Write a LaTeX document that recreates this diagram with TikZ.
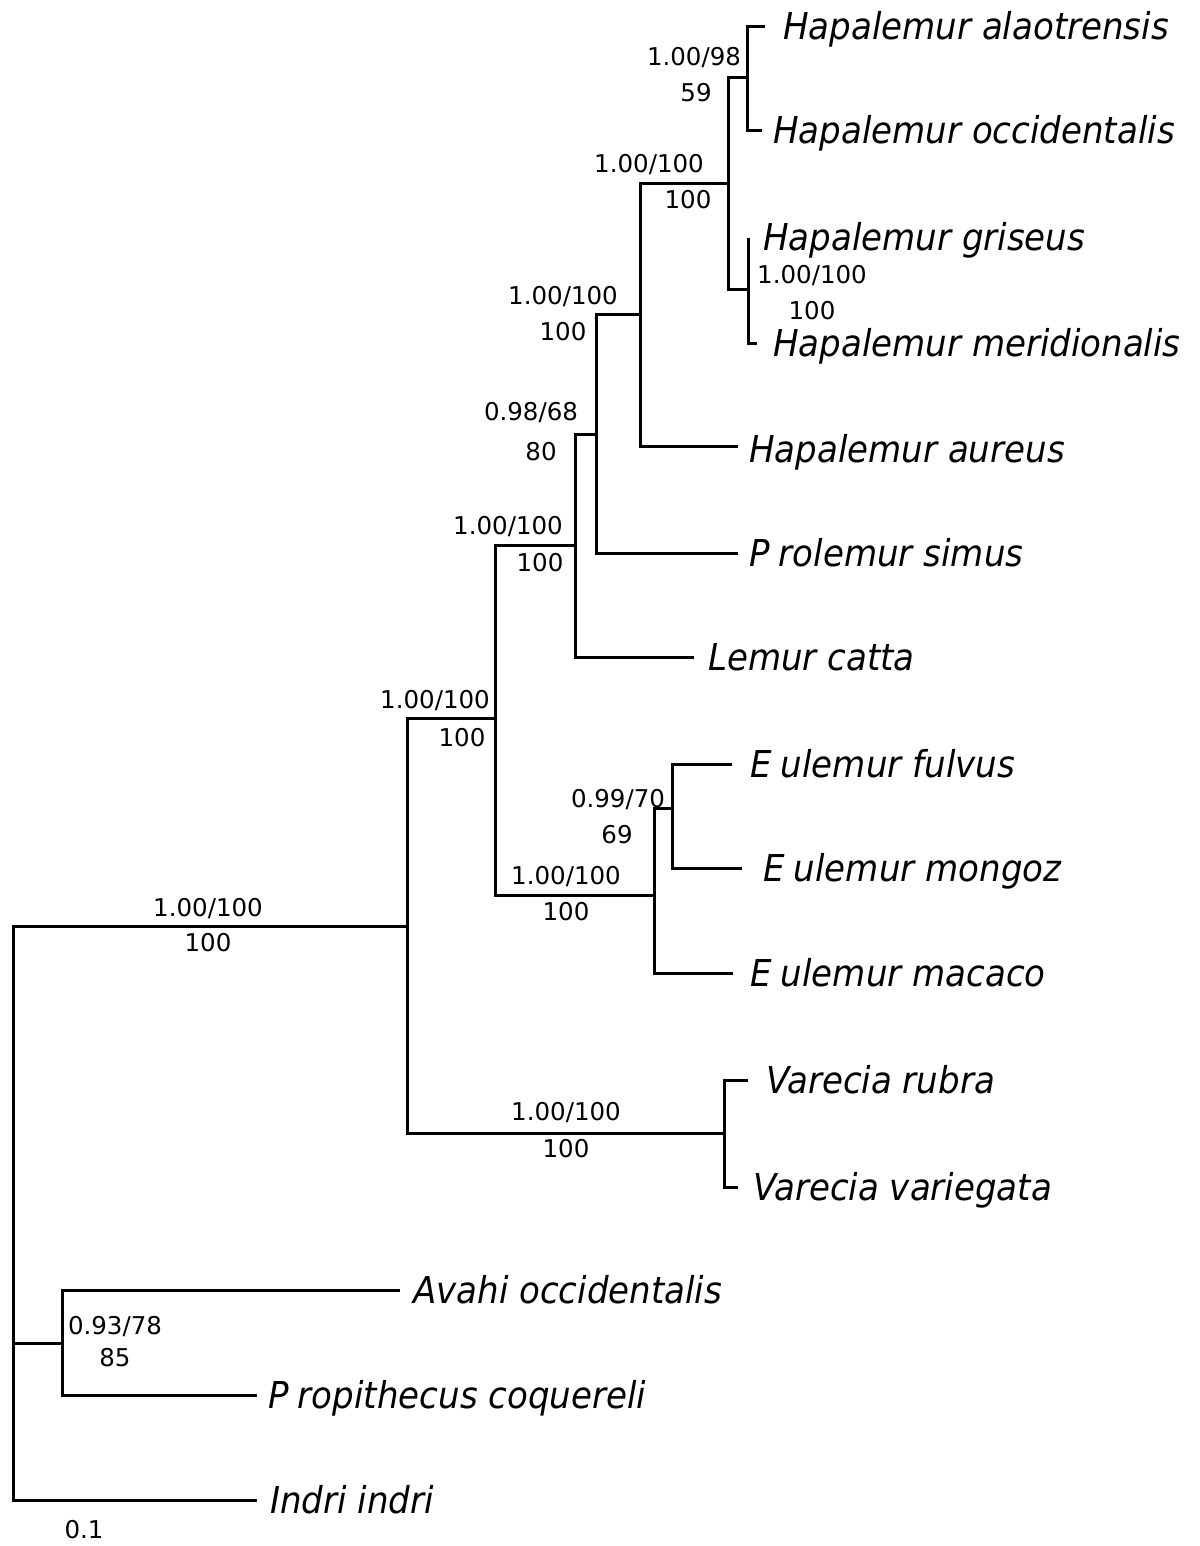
\documentclass[tikz,border=0pt]{standalone}
\usepackage{fontspec}
\setmainfont{DejaVu Sans}
\newfontfamily\taxfont{DejaVu Sans}[FakeStretch=0.92]
\begin{document}
\begin{tikzpicture}[x=1pt,y=-1pt,
  br/.style={line width=3pt, line join=miter},
  sup/.style={font=\fontsize{24.5}{30}\selectfont, inner sep=0pt, anchor=center},
  taxon/.style={font=\taxfont\fontsize{37}{42}\selectfont\itshape, anchor=base west, inner sep=0pt}]
\useasboundingbox (0,0) rectangle (1199,1546);
\fill[white] (0,0) rectangle (1199,1546);
% internal nodes
\coordinate (R) at (13,1343);
\coordinate (A) at (407,926);
\coordinate (B) at (495,718);
\coordinate (C) at (575,545);
\coordinate (D) at (596,434);
\coordinate (E) at (640,314);
\coordinate (F) at (728,184);
\coordinate (G) at (747,78);
\coordinate (Gr) at (748,289);
\coordinate (Eu) at (654,895);
\coordinate (Eu2) at (672,808);
\coordinate (V) at (724,1133);
\coordinate (P) at (62,1343);
% leaf tips
\coordinate (tAla) at (765,27);
\coordinate (tOcc) at (762,131);
\coordinate (tGri) at (748,238);
\coordinate (tMer) at (757,343);
\coordinate (tAur) at (738,446);
\coordinate (tSim) at (738,553);
\coordinate (tCat) at (694,657);
\coordinate (tFul) at (732,764);
\coordinate (tMon) at (742,868);
\coordinate (tMac) at (733,973);
\coordinate (tRub) at (748,1080);
\coordinate (tVar) at (738,1187);
\coordinate (tAva) at (400,1290);
\coordinate (tPro) at (257,1395);
\coordinate (tInd) at (257,1500);
% leaf labels
\node[taxon] (nAla) at (783,40) {Hapalemur alaotrensis};
\node[taxon] (nOcc) at (773,144) {Hapalemur occidentalis};
\node[taxon] (nGri) at (763,251) {Hapalemur griseus};
\node[taxon] (nMer) at (773,356) {Hapalemur meridionalis};
\node[taxon] (nAur) at (749,462) {Hapalemur aureus};
\node[taxon] (nSim) at (749,566) {P\hspace{0.25em}rolemur simus};
\node[taxon] (nCat) at (708,670) {Lemur catta};
\node[taxon] (nFul) at (750,777) {E\hspace{0.25em}ulemur fulvus};
\node[taxon] (nMon) at (763,881) {E\hspace{0.25em}ulemur mongoz};
\node[taxon] (nMac) at (750,986) {E\hspace{0.25em}ulemur macaco};
\node[taxon] (nRub) at (766,1093) {Varecia rubra};
\node[taxon] (nVar) at (753,1200) {Varecia variegata};
\node[taxon] (nAva) at (413,1303) {Avahi occidentalis};
\node[taxon] (nPro) at (268,1408) {P\hspace{0.25em}ropithecus coquereli};
\node[taxon] (nInd) at (270,1513) {Indri indri};
% branches
\draw[br] (R) |- (A);
\draw[br] (R) |- (P);
\draw[br] (R) |- (tInd);
\draw[br] (A) |- (B);
\draw[br] (A) |- (V);
\draw[br] (B) |- (C);
\draw[br] (B) |- (Eu);
\draw[br] (C) |- (D);
\draw[br] (C) |- (tCat);
\draw[br] (D) |- (E);
\draw[br] (D) |- (tSim);
\draw[br] (E) |- (F);
\draw[br] (E) |- (tAur);
\draw[br] (F) |- (G);
\draw[br] (F) |- (Gr);
\draw[br] (G) |- (tAla);
\draw[br] (G) |- (tOcc);
\draw[br] (Gr) |- (tGri);
\draw[br] (Gr) |- (tMer);
\draw[br] (Eu) |- (Eu2);
\draw[br] (Eu) |- (tMac);
\draw[br] (Eu2) |- (tFul);
\draw[br] (Eu2) |- (tMon);
\draw[br] (V) |- (tRub);
\draw[br] (V) |- (tVar);
\draw[br] (P) |- (tAva);
\draw[br] (P) |- (tPro);
% support values
\node[sup] (sA1) at (208,909) {1.00/100};
\node[sup] (sA2) at (208,943) {100};
\node[sup] (sB1) at (435,701) {1.00/100};
\node[sup] (sB2) at (462,738) {100};
\node[sup] (sC1) at (508,527) {1.00/100};
\node[sup] (sC2) at (540,563) {100};
\node[sup] (sD1) at (531,413) {0.98/68};
\node[sup] (sD2) at (541,452) {80};
\node[sup] (sE1) at (563,297) {1.00/100};
\node[sup] (sE2) at (563,332) {100};
\node[sup] (sF1) at (649,165) {1.00/100};
\node[sup] (sF2) at (688,200) {100};
\node[sup] (sG1) at (694,58) {1.00/98};
\node[sup] (sG2) at (696,93) {59};
\node[sup] (sGr1) at (812,276) {1.00/100};
\node[sup] (sGr2) at (812,311) {100};
\node[sup] (sEu1) at (566,877) {1.00/100};
\node[sup] (sEu2) at (566,912) {100};
\node[sup] (sEv1) at (618,800) {0.99/70};
\node[sup] (sEv2) at (617,835) {69};
\node[sup] (sV1) at (566,1113) {1.00/100};
\node[sup] (sV2) at (566,1149) {100};
\node[sup] (sP1) at (115,1327) {0.93/78};
\node[sup] (sP2) at (115,1358) {85};
\node[sup] (scale) at (84,1530) {0.1};
\end{tikzpicture}
\end{document}
